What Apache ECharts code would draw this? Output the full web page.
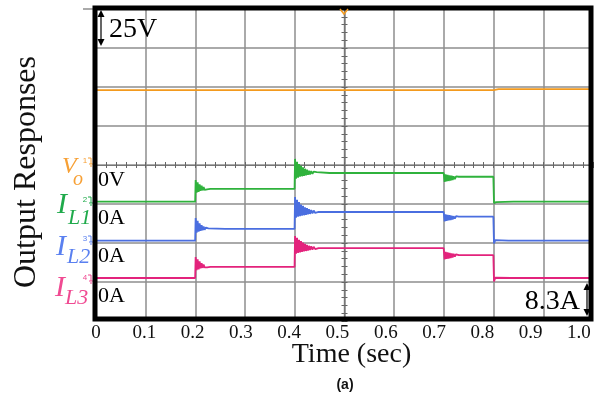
<!DOCTYPE html>
<html>
<head>
<meta charset="utf-8">
<script src="https://cdn.jsdelivr.net/npm/echarts@6/dist/echarts.min.js"></script>
<style>
  html, body { margin: 0; padding: 0; background: #fff; }
  #chart { width: 610px; height: 399px; }
</style>
</head>
<body>
<div id="chart"></div>
<script>
// time tick labels (sec)
const timeTicks = [0, 0.1, 0.2, 0.3, 0.4, 0.5, 0.6, 0.7, 0.8, 0.9, 1.0];

// output voltage Vo (V), 25 V/div
const vo = [
  [0, 48], [0.012, 48], [0.013, 47.1], [0.014, 48], [0.03, 48], [0.031, 47.3], [0.032, 48],
  [0.045, 48], [0.046, 47.2], [0.047, 48], [0.06, 48], [0.061, 47.4], [0.062, 48],
  [0.2, 48], [0.4, 48], [0.401, 47.6], [0.402, 48], [0.6, 48], [0.7, 48], [0.78, 48],
  [0.781, 47.2], [0.782, 48], [0.8, 48], [0.801, 48.8], [0.803, 49], [0.81, 48.6],
  [0.85, 48.6], [0.851, 48], [0.852, 48.6], [0.9, 48.6], [0.95, 48.6], [0.994, 48.6]
];

// inductor current IL1 (A), 8.3 A/div
const il1 = [
  [0, 0.5], [0.03, 0.5], [0.031, 0.8], [0.032, 0.4], [0.07, 0.5], [0.071, 0.8], [0.072, 0.5],
  [0.11, 0.5], [0.111, 0.3], [0.112, 0.6], [0.15, 0.5], [0.151, 0.8], [0.152, 0.5], [0.1995, 0.5],
  [0.2, 0.5], [0.2005, 5.1], [0.2025, 2.4], [0.2045, 4.6], [0.2065, 2.6], [0.2085, 4.2],
  [0.2105, 2.8], [0.2125, 3.9], [0.2145, 2.9], [0.2165, 3.6], [0.2185, 3.0], [0.221, 3.4],
  [0.2235, 3.1], [0.226, 3.3], [0.23, 3.2],
  [0.25, 3.2], [0.251, 3.5], [0.252, 3.1], [0.28, 3.2], [0.281, 2.9], [0.282, 3.2],
  [0.32, 3.2], [0.321, 3.5], [0.322, 3.2], [0.36, 3.2], [0.361, 3.4], [0.362, 3.1], [0.3995, 3.2],
  [0.4, 3.2], [0.4005, 9.6], [0.4025, 5.4], [0.4045, 9.0], [0.4065, 5.6], [0.4085, 8.5],
  [0.4105, 5.8], [0.4125, 8.1], [0.4145, 5.9], [0.4165, 7.8], [0.4185, 6.0], [0.4205, 7.5],
  [0.4225, 6.1], [0.4245, 7.3], [0.4265, 6.2], [0.4285, 7.1], [0.4305, 6.3], [0.433, 7.0],
  [0.4355, 6.4], [0.438, 6.9], [0.441, 6.5], [0.444, 6.8], [0.448, 6.6],
  [0.47, 6.6], [0.471, 6.9], [0.472, 6.5], [0.5, 6.6], [0.501, 6.9], [0.502, 6.6],
  [0.54, 6.6], [0.541, 6.3], [0.542, 6.7], [0.58, 6.6], [0.581, 6.9], [0.582, 6.6],
  [0.62, 6.6], [0.621, 6.9], [0.622, 6.5], [0.66, 6.6], [0.661, 6.9], [0.662, 6.6], [0.6995, 6.6],
  [0.7, 6.6], [0.7015, 4.7], [0.7035, 6.3], [0.7055, 4.8], [0.7075, 6.2], [0.7095, 4.9],
  [0.7115, 6.1], [0.7135, 5.0], [0.7155, 6.0], [0.7175, 5.1], [0.7195, 5.9], [0.722, 5.3],
  [0.7245, 5.9], [0.727, 5.5], [0.73, 5.8], [0.75, 5.8], [0.751, 5.5], [0.752, 5.8],
  [0.78, 5.8], [0.781, 6.0], [0.782, 5.8], [0.7995, 5.8],
  [0.8, 5.8], [0.8008, 0.2], [0.802, -0.2], [0.8035, 0.6], [0.805, 0.4], [0.807, 0.5],
  [0.84, 0.5], [0.841, 0.8], [0.842, 0.5], [0.88, 0.5], [0.881, 0.3], [0.882, 0.6],
  [0.92, 0.5], [0.921, 0.8], [0.922, 0.5], [0.96, 0.5], [0.961, 0.8], [0.962, 0.4], [0.994, 0.5]
];

// inductor current IL2 (A)
const il2 = [
  [0, 0.5], [0.02, 0.5], [0.021, 0.8], [0.022, 0.5], [0.06, 0.5], [0.061, 0.2], [0.062, 0.6],
  [0.1, 0.5], [0.101, 0.8], [0.102, 0.5], [0.14, 0.5], [0.141, 0.8], [0.142, 0.4], [0.1995, 0.5],
  [0.2, 0.5], [0.2005, 5.3], [0.2025, 2.2], [0.2045, 4.7], [0.2065, 2.4], [0.2085, 4.2],
  [0.2105, 2.6], [0.2125, 3.8], [0.2145, 2.7], [0.2165, 3.5], [0.2185, 2.8], [0.221, 3.3],
  [0.2235, 2.9], [0.226, 3.1], [0.23, 3.0],
  [0.26, 3.0], [0.261, 3.4], [0.262, 2.8], [0.29, 3.0], [0.291, 3.3], [0.292, 2.9],
  [0.33, 3.0], [0.331, 3.3], [0.332, 3.0], [0.37, 3.0], [0.371, 2.7], [0.372, 3.1], [0.3995, 3.0],
  [0.4, 3.0], [0.4005, 9.8], [0.4025, 5.4], [0.4045, 9.2], [0.4065, 5.6], [0.4085, 8.7],
  [0.4105, 5.7], [0.4125, 8.2], [0.4145, 5.8], [0.4165, 7.9], [0.4185, 5.9], [0.4205, 7.6],
  [0.4225, 6.0], [0.4245, 7.4], [0.4265, 6.1], [0.4285, 7.2], [0.4305, 6.2], [0.433, 7.0],
  [0.4355, 6.3], [0.438, 6.9], [0.441, 6.4], [0.444, 6.8], [0.448, 6.6],
  [0.47, 6.6], [0.471, 6.9], [0.472, 6.5], [0.51, 6.6], [0.511, 6.9], [0.512, 6.6],
  [0.55, 6.6], [0.551, 6.3], [0.552, 6.7], [0.59, 6.6], [0.591, 6.9], [0.592, 6.6],
  [0.63, 6.6], [0.631, 6.9], [0.632, 6.5], [0.67, 6.6], [0.671, 6.9], [0.672, 6.6], [0.6995, 6.6],
  [0.7, 6.6], [0.7015, 4.6], [0.7035, 6.1], [0.7055, 4.7], [0.7075, 6.0], [0.7095, 4.8],
  [0.7115, 5.9], [0.7135, 4.9], [0.7155, 5.8], [0.7175, 5.0], [0.7195, 5.7], [0.722, 5.2],
  [0.7245, 5.7], [0.727, 5.4], [0.73, 5.6], [0.75, 5.6], [0.751, 5.3], [0.752, 5.6],
  [0.78, 5.6], [0.781, 5.8], [0.782, 5.6], [0.7995, 5.6],
  [0.8, 5.6], [0.8008, -0.1], [0.802, -0.4], [0.8035, 0.6], [0.805, 0.4], [0.807, 0.5],
  [0.83, 0.5], [0.831, 0.8], [0.832, 0.5], [0.87, 0.5], [0.871, 0.8], [0.872, 0.4],
  [0.91, 0.5], [0.911, 0.8], [0.912, 0.5], [0.95, 0.5], [0.951, 0.8], [0.952, 0.5], [0.994, 0.5]
];

// inductor current IL3 (A)
const il3 = [
  [0, 0.85], [0.025, 0.85], [0.026, 1.15], [0.027, 0.8], [0.065, 0.85], [0.066, 1.15], [0.067, 0.85],
  [0.105, 0.85], [0.106, 0.6], [0.107, 0.9], [0.145, 0.85], [0.146, 1.15], [0.147, 0.85], [0.1995, 0.85],
  [0.2, 0.85], [0.2005, 5.3], [0.2025, 2.5], [0.2045, 4.8], [0.2065, 2.7], [0.2085, 4.4],
  [0.2105, 2.9], [0.2125, 4.0], [0.2145, 3.0], [0.2165, 3.7], [0.2185, 3.1], [0.221, 3.5],
  [0.2235, 3.1], [0.226, 3.3], [0.23, 3.2],
  [0.255, 3.2], [0.256, 3.5], [0.257, 3.1], [0.285, 3.2], [0.286, 3.5], [0.287, 3.2],
  [0.325, 3.2], [0.326, 3.5], [0.327, 3.1], [0.365, 3.2], [0.366, 3.5], [0.367, 3.2], [0.3995, 3.2],
  [0.4, 3.2], [0.4005, 9.8], [0.4025, 6.0], [0.4045, 9.4], [0.4065, 6.2], [0.4085, 9.0],
  [0.4105, 6.3], [0.4125, 8.7], [0.4145, 6.4], [0.4165, 8.4], [0.4185, 6.5], [0.4205, 8.1],
  [0.4225, 6.6], [0.4245, 7.9], [0.4265, 6.7], [0.4285, 7.7], [0.4305, 6.8], [0.433, 7.6],
  [0.4355, 6.9], [0.438, 7.5], [0.441, 7.0], [0.444, 7.4], [0.448, 7.2],
  [0.475, 7.2], [0.476, 7.5], [0.477, 7.1], [0.505, 7.2], [0.506, 7.5], [0.507, 7.2],
  [0.545, 7.2], [0.546, 7.5], [0.547, 7.2], [0.585, 7.2], [0.586, 7.5], [0.587, 7.1],
  [0.625, 7.2], [0.626, 7.5], [0.627, 7.2], [0.665, 7.2], [0.666, 7.5], [0.667, 7.2], [0.6995, 7.2],
  [0.7, 7.2], [0.7015, 4.8], [0.7035, 6.4], [0.7055, 4.9], [0.7075, 6.3], [0.7095, 5.0],
  [0.7115, 6.2], [0.7135, 5.1], [0.7155, 6.1], [0.7175, 5.2], [0.7195, 6.0], [0.722, 5.4],
  [0.7245, 5.9], [0.727, 5.5], [0.73, 5.7], [0.75, 5.7], [0.751, 5.4], [0.752, 5.7],
  [0.78, 5.7], [0.781, 5.9], [0.782, 5.7], [0.7995, 5.7],
  [0.8, 5.7], [0.8008, 0.1], [0.802, -0.15], [0.8035, 0.9], [0.805, 0.75], [0.807, 0.85],
  [0.835, 0.85], [0.836, 1.15], [0.837, 0.85], [0.875, 0.85], [0.876, 1.15], [0.877, 0.8],
  [0.915, 0.85], [0.916, 1.15], [0.917, 0.85], [0.955, 0.85], [0.956, 1.15], [0.957, 0.85], [0.994, 0.85]
];

const COLORS = { vo: '#f39a1e', il1: '#2fb23c', il2: '#4a6ee0', il3: '#e3237c' };
const LABEL_COLORS = { vo: '#f7a035', il1: '#1faa4b', il2: '#5a80f0', il3: '#f04a92' };
const GRID = '#8e8e8e';
const SERIF = '"Liberation Serif", "Times New Roman", serif';

const chart = echarts.init(document.getElementById('chart'));

const trace = (name, data, yAxisIndex, color) => ({
  name,
  type: 'line',
  data,
  xAxisIndex: 0,
  yAxisIndex,
  showSymbol: false,
  lineStyle: { color, width: 1.8 },
  z: 3,
  animation: false,
});

// hidden per-channel scale: unit/div, zero on the given division (from bottom)
const channelAxis = (perDiv, zeroDiv) => ({
  type: 'value',
  show: false,
  min: -zeroDiv * perDiv,
  max: (8 - zeroDiv) * perDiv,
  axisLine: { onZero: false },
});

// hidden axis only used to put a center line on its zero
const zeroRef = (half) => ({ type: 'value', show: false, min: -half, max: half, axisLine: { onZero: false } });

// center cross-hair lines with small division ticks
const centerX = (inside, refIndex) => ({
  type: 'value',
  min: 0,
  max: 1,
  interval: 0.1,
  position: 'bottom',
  axisLine: { show: true, onZero: true, onZeroAxisIndex: refIndex, lineStyle: { color: '#777', width: 1.2 } },
  axisTick: { show: true, inside, length: 3, lineStyle: { color: '#666' } },
  minorTick: { show: true, splitNumber: 5, length: 3, lineStyle: { color: '#666' } },
  axisLabel: { show: false },
  splitLine: { show: false },
});

const centerY = (inside, refIndex, withGrid) => ({
  type: 'value',
  min: -4,
  max: 4,
  interval: 1,
  position: 'left',
  axisLine: { show: true, onZero: true, onZeroAxisIndex: refIndex, lineStyle: { color: '#777', width: 1.2 } },
  axisTick: { show: true, inside, length: 3, lineStyle: { color: '#666' } },
  minorTick: { show: true, splitNumber: 5, length: 3, lineStyle: { color: '#666' } },
  axisLabel: { show: false },
  splitLine: {
    show: withGrid, showMinLine: false, showMaxLine: false,
    lineStyle: { color: GRID, width: 1.5 },
  },
});

const chanMark = (digit, y, color) => ({
  type: 'group',
  children: [
    { type: 'text', x: 85, y: y - 1, style: { text: digit, font: '8px "Liberation Sans"', fill: color, align: 'center', verticalAlign: 'bottom' } },
    { type: 'polyline', shape: { points: [[88, y - 8], [91, y - 8], [91, y - 2]] }, style: { stroke: color, lineWidth: 1, fill: null } },
    { type: 'line', shape: { x1: 89, y1: y - 2, x2: 93, y2: y - 2 }, style: { stroke: color, lineWidth: 1 } },
    { type: 'line', shape: { x1: 90, y1: y, x2: 92, y2: y }, style: { stroke: color, lineWidth: 1 } },
  ],
});

const txt = (text, x, y, size, color, extra) => ({
  type: 'text', x, y, z: 20,
  style: Object.assign({ text, font: size + 'px ' + SERIF, fill: color, align: 'left', verticalAlign: 'middle' }, extra || {}),
});

const italic = (text, x, y, size, color) => ({
  type: 'text', x, y, z: 20,
  style: { text, font: 'italic ' + size + 'px ' + SERIF, fill: color, align: 'left', verticalAlign: 'middle' },
});

// the printed time labels sit on a slightly shorter span than the grid
const LABEL_SPAN = 1.029;

chart.setOption({
  backgroundColor: '#fff',
  animation: false,
  grid: { left: 96, top: 9, width: 497, height: 312, containLabel: false, outerBoundsMode: 'none' },
  xAxis: [
    {
      type: 'value',
      min: 0,
      max: 1,
      interval: 0.1,
      axisLine: { show: false, onZero: false },
      axisTick: { show: false },
      axisLabel: { show: false },
      splitLine: { show: true, showMinLine: false, showMaxLine: false, lineStyle: { color: GRID, width: 1.5 } },
      name: 'Time (sec)',
      nameLocation: 'middle',
      nameGap: 20,
      nameTextStyle: { color: '#111', fontFamily: SERIF, fontSize: 28, padding: [0, 0, 0, 14] },
    },
    centerX(true, 0),
    centerX(false, 6),
    zeroRef(0.5),
    {
      type: 'value',
      min: 0,
      max: LABEL_SPAN,
      interval: 0.1,
      position: 'bottom',
      axisLine: { show: false, onZero: false },
      axisTick: { show: false },
      splitLine: { show: false },
      axisLabel: {
        margin: 3,
        color: '#111',
        fontFamily: SERIF,
        fontSize: 19,
        showMaxLabel: false,
        formatter: (v) => {
          const t = timeTicks.find((k) => Math.abs(k - v) < 1e-6);
          if (t === undefined) return '';
          return t === 1 ? '1.0' : String(t);
        },
      },
    },
    zeroRef(0.5),
  ],
  yAxis: [
    centerY(true, 3, true),
    centerY(false, 5, false),
    channelAxis(25, 4),
    channelAxis(8.3, 3),
    channelAxis(8.3, 2),
    channelAxis(8.3, 1),
    zeroRef(4),
  ],
  series: [
    trace('Vo', vo, 2, COLORS.vo),
    trace('IL1', il1, 3, COLORS.il1),
    trace('IL2', il2, 4, COLORS.il2),
    trace('IL3', il3, 5, COLORS.il3),
  ],
  graphic: [
    // scope frame (wide enough to cover the grid edge lines)
    { type: 'rect', z: 30, shape: { x: 95, y: 8, width: 496, height: 311 }, style: { fill: null, stroke: '#000', lineWidth: 5 } },
    { type: 'line', z: 1, shape: { x1: 83, y1: 9, x2: 95, y2: 9 }, style: { stroke: GRID, lineWidth: 1.5 } },
    // trigger marker
    { type: 'polyline', z: 31, shape: { points: [[340, 9], [344, 14], [348, 9]] }, style: { stroke: COLORS.vo, lineWidth: 1.5, fill: null } },

    // y title
    {
      type: 'text', x: 27, y: 172, rotation: Math.PI / 2, z: 20,
      style: { text: 'Output Responses', font: '32px ' + SERIF, fill: '#111', align: 'center', verticalAlign: 'middle' },
    },
    // sub-caption
    {
      type: 'text', x: 345, y: 385, z: 20,
      style: { text: '(a)', font: 'bold 14px "Liberation Sans"', fill: '#111', align: 'center', verticalAlign: 'middle' },
    },

    // channel names
    italic('V', 62, 167, 24, LABEL_COLORS.vo),
    italic('o', 73, 180, 20, LABEL_COLORS.vo),
    italic('I', 57, 205, 30, LABEL_COLORS.il1),
    italic('L1', 68, 218, 22, LABEL_COLORS.il1),
    italic('I', 56, 247, 30, LABEL_COLORS.il2),
    italic('L2', 67, 257, 22, LABEL_COLORS.il2),
    italic('I', 55, 288, 30, LABEL_COLORS.il3),
    italic('L3', 65, 298, 22, LABEL_COLORS.il3),

    chanMark('1', 166, LABEL_COLORS.vo),
    chanMark('2', 205, LABEL_COLORS.il1),
    chanMark('3', 244, LABEL_COLORS.il2),
    chanMark('4', 283, LABEL_COLORS.il3),

    // zero levels
    txt('0V', 98, 180, 22, '#000'),
    txt('0A', 98, 218, 22, '#000'),
    txt('0A', 98, 256, 22, '#000'),
    txt('0A', 98, 296, 22, '#000'),

    // scale markers
    txt('25V', 109, 30, 28, '#000'),
    { type: 'line', z: 20, shape: { x1: 101, y1: 14, x2: 101, y2: 42 }, style: { stroke: '#000', lineWidth: 1.2 } },
    { type: 'polygon', z: 20, shape: { points: [[97.5, 17], [101, 10], [104.5, 17]] }, style: { fill: '#000' } },
    { type: 'polygon', z: 20, shape: { points: [[97.5, 39], [101, 46], [104.5, 39]] }, style: { fill: '#000' } },
    txt('8.3A', 580, 302, 28, '#000', { align: 'right' }),
    { type: 'line', z: 20, shape: { x1: 587, y1: 287, x2: 587, y2: 312 }, style: { stroke: '#000', lineWidth: 1.2 } },
    { type: 'polygon', z: 20, shape: { points: [[583.5, 290], [587, 283], [590.5, 290]] }, style: { fill: '#000' } },
    { type: 'polygon', z: 20, shape: { points: [[583.5, 309], [587, 316], [590.5, 309]] }, style: { fill: '#000' } },
  ],
});

window.addEventListener('resize', () => chart.resize());
</script>
</body>
</html>
